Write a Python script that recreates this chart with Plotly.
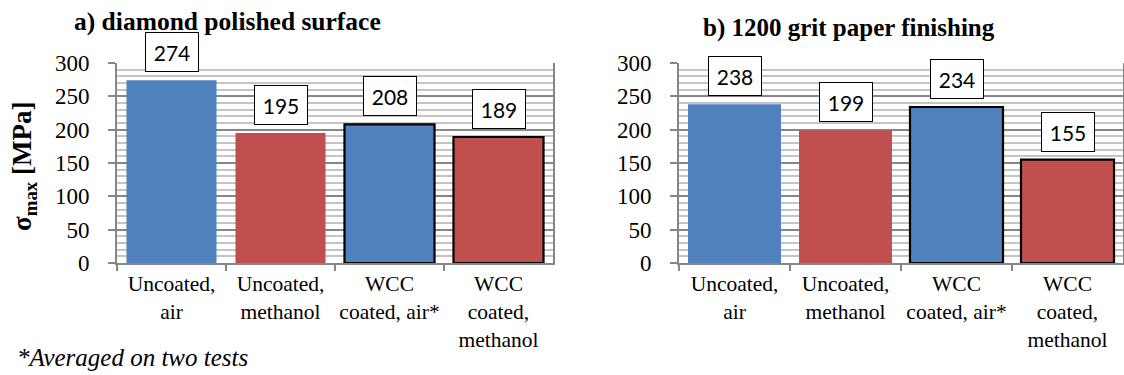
import plotly.graph_objects as go

categories = ["Uncoated,<br>air", "Uncoated,<br>methanol", "WCC<br>coated, air*", "WCC<br>coated,<br>methanol"]
values_a = [274, 195, 208, 189]
values_b = [238, 199, 234, 155]
bar_colors = ["#4F81BD", "#C0504D", "#4F81BD", "#C0504D"]
border_widths = [0, 0, 2.2, 2.2]
title_a = "a) diamond polished surface"
title_b = "b) 1200 grit paper finishing"
y_title = "σ<sub>max</sub> [MPa]"
footnote = "*Averaged on two tests"

W, H = 1124, 375
SERIF = "Liberation Serif"
LABEL_FONT = "Lato"

def px(x):
    return x / W

def py(y):
    return 1 - y / H

fig = go.Figure()
fig.add_trace(go.Bar(x=categories, y=values_a, xaxis="x", yaxis="y",
                     marker=dict(color=bar_colors, line=dict(color="black", width=border_widths)),
                     width=[0.826] * 4, showlegend=False, hoverinfo="skip"))
fig.add_trace(go.Bar(x=categories, y=values_b, xaxis="x2", yaxis="y2",
                     marker=dict(color=bar_colors, line=dict(color="black", width=border_widths)),
                     width=[0.838] * 4, showlegend=False, hoverinfo="skip"))

axis_gray = "#868686"
common_y = dict(range=[0, 300], dtick=50, showgrid=True, gridcolor="#878787", gridwidth=1.5,
                minor=dict(dtick=10, showgrid=True, gridcolor="#c4c4c4", gridwidth=1.5),
                showline=True, linecolor=axis_gray, linewidth=2, mirror=True,
                ticks="outside", ticklen=7, tickcolor=axis_gray, tickwidth=2,
                tickfont=dict(family=SERIF, size=23, color="black"),
                ticklabelstandoff=14, zeroline=False, fixedrange=True, automargin=False)
common_x = dict(type="category", showline=True, linecolor=axis_gray, linewidth=2,
                ticks="outside", tickson="boundaries", ticklen=6, tickcolor=axis_gray, tickwidth=2,
                tickfont=dict(family=SERIF, size=21.5, color="black"), tickangle=0, showgrid=False,
                fixedrange=True, automargin=False)

ydom = [py(263), py(63)]
fig.update_layout(
    width=W, height=H, margin=dict(l=0, r=0, t=0, b=0, autoexpand=False),
    paper_bgcolor="white", plot_bgcolor="white",
    xaxis=dict(domain=[px(117), px(553)], anchor="y", **common_x),
    yaxis=dict(domain=ydom, anchor="x", **common_y),
    xaxis2=dict(domain=[px(679), px(1123)], anchor="y2", **common_x),
    yaxis2=dict(domain=ydom, anchor="x2", **common_y),
    barmode="group",
)

annotations = []
for xa, ya, vals in (("x", "y", values_a), ("x2", "y2", values_b)):
    for c, v in zip(categories, vals):
        annotations.append(dict(x=c, y=v, xref=xa, yref=ya, text=str(v), showarrow=False,
                                yanchor="bottom", yshift=8, bgcolor="white", bordercolor="black",
                                borderwidth=1, borderpad=6, width=40, height=26,
                                font=dict(family=LABEL_FONT, size=21, color="black")))

annotations.append(dict(x=px(227), y=py(21), xref="paper", yref="paper", text="<b>" + title_a + "</b>",
                        showarrow=False, xanchor="center", yanchor="middle",
                        font=dict(family=SERIF, size=25.5, color="black")))
annotations.append(dict(x=px(849), y=py(28), xref="paper", yref="paper", text="<b>" + title_b + "</b>",
                        showarrow=False, xanchor="center", yanchor="middle",
                        font=dict(family=SERIF, size=25, color="black")))
annotations.append(dict(x=px(24), y=py(166), xref="paper", yref="paper", text="<b>" + y_title + "</b>",
                        showarrow=False, xanchor="center", yanchor="middle", textangle=-90,
                        font=dict(family=SERIF, size=27, color="black")))
annotations.append(dict(x=px(15), y=py(357), xref="paper", yref="paper", text="<i>" + footnote + "</i>",
                        showarrow=False, xanchor="left", yanchor="middle",
                        font=dict(family=SERIF, size=25, color="black")))
fig.update_layout(annotations=annotations)

# remove the default 8px page margin so the figure sits at the window's top-left corner
fig.write_html("out.html", config={"displayModeBar": False},
               post_script="document.body.style.margin='0';")
